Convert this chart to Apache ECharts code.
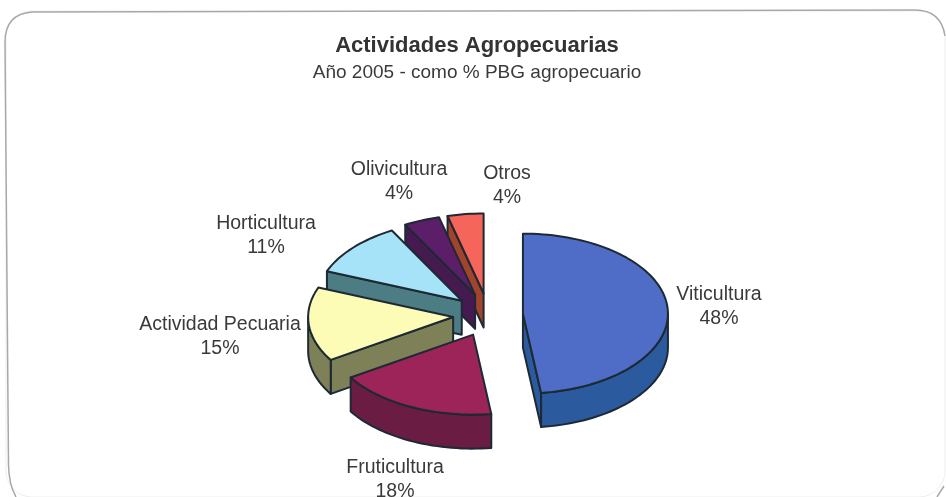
<!DOCTYPE html>
<html lang="es">

<head>
    <meta charset="UTF-8">
    <title>Actividades Agropecuarias</title>
    <style>
        html, body { margin: 0; padding: 0; background: #ffffff; }
        #box { width: 946px; height: 497px; }
    </style>
    <script src="https://cdn.jsdelivr.net/npm/echarts@6/dist/echarts.min.js"></script>
</head>

<body>
    <div id="box"></div>
    <script>
        const categories = ['Viticultura', 'Fruticultura', 'Actividad Pecuaria', 'Horticultura', 'Olivicultura', 'Otros'];
        const values = [48, 18, 15, 11, 4, 4];
        const topColors = ['#4f6cc6', '#9c2459', '#fcfcb6', '#a6e2f8', '#5c1e68', '#f6655a'];
        const wallColors = ['#2b5a9f', '#6a1c42', '#7e8058', '#4d7d84', '#451a50', '#a2432e'];
        // label centres
        const labelX = [719, 395, 220, 266, 399, 507];
        const labelY = [307, 480, 337, 236, 182, 186];

        const myChart = echarts.init(document.querySelector('#box'));

        // fake 3D pie: flattened circle, tilted look comes from rx/ry and the wall depth
        const cx = 488, cy = 315, rx = 145, ry = 80, depth = 34;
        const explodeX = 35, explodeY = 21.7;
        const edge = '#1d2933';
        const total = values.reduce((a, b) => a + b, 0);

        function rad(deg) { return deg * Math.PI / 180; }

        function arc(ax, ay, from, to, dy) {
            const pts = [];
            const n = Math.max(2, Math.ceil((to - from) / 2));
            for (let k = 0; k <= n; k++) {
                const t = rad(from + (to - from) * k / n);
                pts.push([ax + rx * Math.sin(t), ay - ry * Math.cos(t) + dy]);
            }
            return pts;
        }

        function poly(points, fill) {
            return {
                type: 'polygon',
                shape: { points: points },
                style: { fill: fill, stroke: edge, lineWidth: 2, lineJoin: 'round' }
            };
        }

        function renderSlice(params, api) {
            const i = api.value(0);
            let before = 0;
            for (let j = 0; j < i; j++) before += values[j];
            const start = before / total * 360;
            const end = (before + values[i]) / total * 360;
            const mid = rad((start + end) / 2);
            const ax = cx + explodeX * Math.sin(mid);
            const ay = cy - explodeY * Math.cos(mid);
            const children = [];

            // cut faces, only those turned towards the viewer
            const radial = function (deg) {
                const p = arc(ax, ay, deg, deg, 0)[0];
                return [[ax, ay], p, [p[0], p[1] + depth], [ax, ay + depth]];
            };
            if (Math.sin(rad(start)) < 0) children.push(poly(radial(start), wallColors[i]));
            if (Math.sin(rad(end)) > 0 && end < 180) children.push(poly(radial(end), wallColors[i]));

            // outer wall is seen only on the front half
            const wallFrom = Math.max(start, 90), wallTo = Math.min(end, 270);
            if (wallTo > wallFrom) {
                children.push(poly(arc(ax, ay, wallFrom, wallTo, 0).concat(arc(ax, ay, wallFrom, wallTo, depth).reverse()), wallColors[i]));
            }

            children.push(poly([[ax, ay]].concat(arc(ax, ay, start, end, 0)), topColors[i]));
            children.push({
                type: 'text',
                x: labelX[i],
                y: labelY[i],
                style: {
                    text: categories[i] + '\n' + values[i] + '%',
                    fill: '#3a3a3a',
                    font: '19.5px "Liberation Sans"',
                    lineHeight: 24,
                    align: 'center',
                    verticalAlign: 'middle'
                }
            });
            return { type: 'group', children: children };
        }

        // back slices first so the front ones cover them
        const drawOrder = [5, 4, 3, 2, 1, 0];

        const frameStyle = { fill: 'none', stroke: '#a8a8a8', lineWidth: 1.5 };
        function frameLine(x1, y1, x2, y2) {
            return { type: 'line', z: -1, shape: { x1: x1, y1: y1, x2: x2, y2: y2 }, style: frameStyle };
        }
        function frameCorner(x1, y1, cpx, cpy, x2, y2) {
            return { type: 'bezierCurve', z: -1, shape: { x1: x1, y1: y1, cpx1: cpx, cpy1: cpy, x2: x2, y2: y2 }, style: frameStyle };
        }

        const option = {
            animation: false,
            backgroundColor: '#ffffff',
            title: {
                text: 'Actividades Agropecuarias',
                subtext: 'Año 2005 - como % PBG agropecuario',
                left: 472,
                top: 30,
                textAlign: 'center',
                itemGap: 6,
                textStyle: { fontFamily: 'Liberation Sans', fontSize: 22, fontWeight: 'bold', color: '#333333' },
                subtextStyle: { fontFamily: 'Liberation Sans', fontSize: 19, color: '#3a3a3a' }
            },
            graphic: [{
                // faint frame, the right and bottom sides nearly vanish in the scan
                type: 'rect',
                z: -1,
                shape: { x: 6, y: 11, width: 939, height: 486, r: 26 },
                style: { fill: '#ffffff', stroke: '#eeeeee', lineWidth: 1 }
            },
            frameCorner(16, 497, 9, 485, 8.5, 465),
            frameLine(8.5, 465, 5, 42),
            frameCorner(5, 42, 5, 14, 32, 12),
            frameLine(32, 12, 915, 10),
            frameCorner(915, 10, 941, 10, 945, 36),
            frameLine(944, 486, 937, 497)],
            series: [{
                type: 'custom',
                coordinateSystem: 'none',
                renderItem: renderSlice,
                data: drawOrder.map(function (i) { return [i, values[i]]; })
            }]
        };

        myChart.setOption(option);
    </script>
</body>

</html>
